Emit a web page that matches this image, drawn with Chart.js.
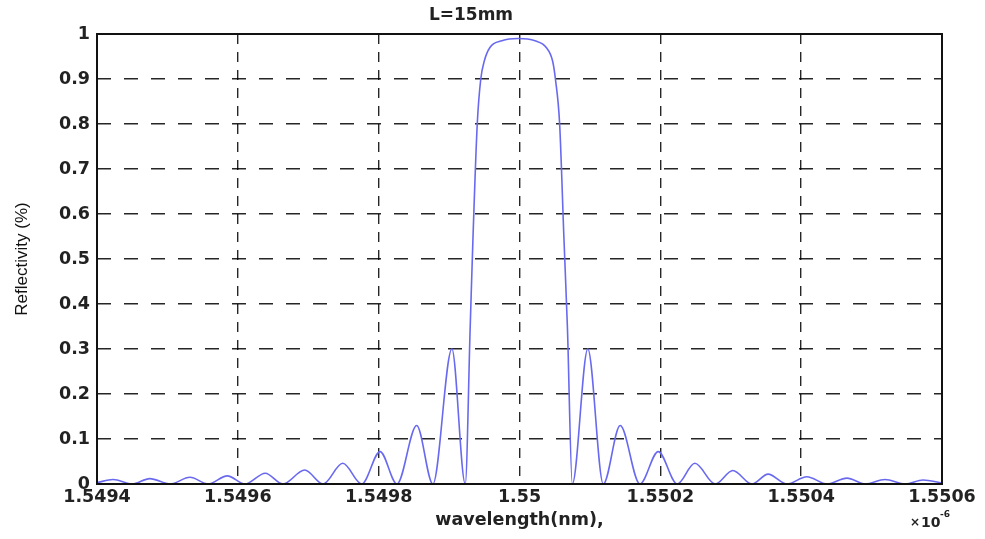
<!DOCTYPE html>
<html>
<head>
<meta charset="utf-8">
<title>Reflectividad L=15mm</title>
<script src="https://cdn.jsdelivr.net/npm/chart.js@4/dist/chart.umd.min.js"></script>
<style>
  html, body { margin: 0; padding: 0; background: #fff; }
  #contenedor { width: 985px; height: 539px; }
</style>
</head>
<body>
<div id="contenedor"><canvas id="myChart" width="985" height="539"></canvas></div>
<script>
//Datos: longitud de onda (x 10^-6) y reflectividad
const longitudOnda = [
  1.549400, 1.549423, 1.549450, 1.549475, 1.549504, 1.549532, 1.549558, 1.549585,
  1.549610, 1.549639, 1.549664, 1.549695, 1.549721, 1.549749, 1.549776, 1.549802,
  1.549826, 1.549854, 1.549877, 1.549904, 1.549923, 1.549930, 1.549934, 1.549940,
  1.549945, 1.549950, 1.549958, 1.549975, 1.549998, 1.550022, 1.550038, 1.550047,
  1.550051, 1.550057, 1.550063, 1.550068, 1.550075, 1.550097, 1.550119, 1.550143,
  1.550171, 1.550197, 1.550224, 1.550249, 1.550278, 1.550303, 1.550330, 1.550353,
  1.550380, 1.550408, 1.550437, 1.550465, 1.550491, 1.550519, 1.550548, 1.550573,
  1.550600
];
const reflectividad = [
  0.003, 0.010, 0, 0.012, 0, 0.015, 0, 0.018,
  0, 0.024, 0, 0.031, 0, 0.046, 0, 0.072,
  0, 0.13, 0, 0.30, 0, 0.35, 0.55, 0.80,
  0.90, 0.94, 0.97, 0.985, 0.99, 0.985, 0.97, 0.94,
  0.90, 0.80, 0.55, 0.35, 0, 0.30, 0, 0.13,
  0, 0.072, 0, 0.046, 0, 0.030, 0, 0.022,
  0, 0.016, 0, 0.013, 0, 0.010, 0, 0.009,
  0.002
];
//Marcas de los ejes
const marcasX = [1.5494, 1.5496, 1.5498, 1.55, 1.5502, 1.5504, 1.5506];
const marcasY = [0, 0.1, 0.2, 0.3, 0.4, 0.5, 0.6, 0.7, 0.8, 0.9, 1];

const fuenteEjes = { family: "'DejaVu Sans', sans-serif", weight: "bold", size: 17.5 };

//Marco negro alrededor del area de la grafica (estilo matlab)
const marco = {
  id: "marco",
  afterDatasetsDraw(chart) {
    const { ctx, chartArea: a } = chart;
    ctx.save();
    ctx.strokeStyle = "#111";
    ctx.lineWidth = 2;
    ctx.strokeRect(a.left, a.top, a.right - a.left, a.bottom - a.top);
    ctx.restore();
  },
};

//Factor de escala "x 10^-6" abajo a la derecha
const exponente = {
  id: "exponente",
  afterDraw(chart) {
    const ctx = chart.ctx;
    ctx.save();
    ctx.fillStyle = "#222";
    ctx.textBaseline = "alphabetic";
    ctx.font = "bold 12px 'DejaVu Sans'";
    ctx.fillText("\u00d7", 910, 526);
    ctx.font = "bold 14px 'DejaVu Sans'";
    ctx.fillText("10", 921, 527);
    ctx.font = "bold 9px 'DejaVu Sans'";
    ctx.fillText("-6", 940, 517);
    ctx.restore();
  },
};

function dibujarGrafica() {
  const puntos = [];
  longitudOnda.forEach(function (x, i) {
    puntos.push({ x: x, y: reflectividad[i] });
  });

  const config = {
    type: "line",
    data: {
      datasets: [
        {
          label: "Reflectividad",
          data: puntos,
          borderColor: "rgb(105, 105, 240)",
          borderWidth: 1.6,
          pointRadius: 0,
          cubicInterpolationMode: "monotone",
          fill: false,
        },
      ],
    },
    options: {
      responsive: false,
      animation: false,
      devicePixelRatio: 1,
      layout: { padding: { top: 0, right: 43, bottom: 0, left: 0 } },
      plugins: {
        legend: { display: false },
        tooltip: { enabled: false },
        title: {
          display: true,
          text: "L=15mm",
          color: "#222",
          font: { family: "'DejaVu Sans', sans-serif", weight: "bold", size: 17 },
          padding: { top: 5, bottom: 8.6 },
        },
      },
      scales: {
        x: {
          type: "linear",
          min: 1.5494,
          max: 1.5506,
          afterBuildTicks: (scale) => {
            scale.ticks = marcasX.map((v) => ({ value: v }));
          },
          afterFit: (scale) => {
            scale.height = 55;
          },
          ticks: {
            color: "#222",
            font: fuenteEjes,
            padding: 3,
            maxRotation: 0,
            autoSkip: false,
            callback: (v) => String(v),
          },
          grid: { color: "rgba(0,0,0,0.85)", lineWidth: 1.4, drawTicks: false },
          border: { display: false, dash: [10, 8] },
          title: {
            display: true,
            text: "wavelength(nm),",
            color: "#222",
            font: fuenteEjes,
            padding: { top: 0, bottom: 8.5 },
          },
        },
        y: {
          type: "linear",
          min: 0,
          max: 1,
          afterBuildTicks: (scale) => {
            scale.ticks = marcasY.map((v) => ({ value: v }));
          },
          afterFit: (scale) => {
            scale.width = 97;
          },
          ticks: {
            color: "#222",
            font: fuenteEjes,
            padding: 7,
            callback: (v) => String(v),
          },
          grid: { color: "rgba(0,0,0,0.85)", lineWidth: 1.4, drawTicks: false },
          border: { display: false, dash: [14, 13] },
          title: {
            display: true,
            text: "Reflectivity (%)",
            color: "#111",
            font: { family: "'Liberation Sans Narrow', 'Liberation Sans', sans-serif", size: 17 },
            padding: { top: 12, bottom: 0 },
          },
        },
      },
    },
    plugins: [marco, exponente],
  };

  const myChart = new Chart(document.getElementById("myChart"), config);
}

dibujarGrafica();
</script>
</body>
</html>
